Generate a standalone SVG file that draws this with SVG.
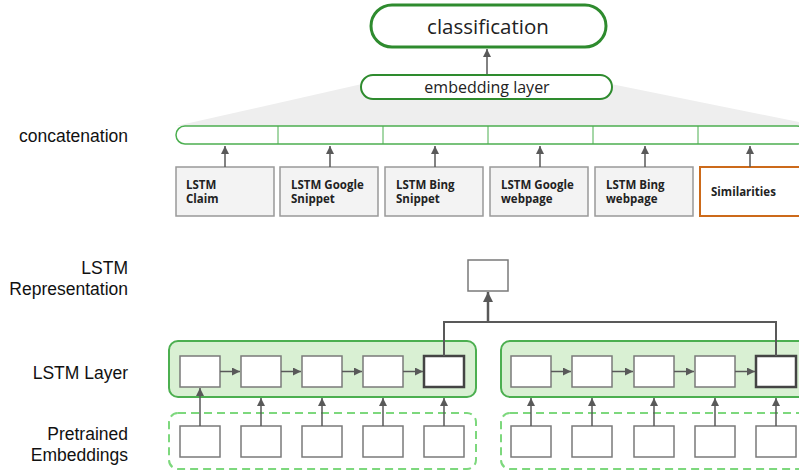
<svg xmlns="http://www.w3.org/2000/svg" width="799" height="472" viewBox="0 0 799 472">
<defs>
<marker id="ah" viewBox="0 0 10 10" refX="10" refY="5" markerWidth="8" markerHeight="8" markerUnits="userSpaceOnUse" orient="auto"><path d="M0,0 L10,5 L0,10 z" fill="#595959"/></marker>
<marker id="ahb" viewBox="0 0 10 10" refX="10" refY="5" markerWidth="10" markerHeight="10" markerUnits="userSpaceOnUse" orient="auto"><path d="M0,0 L10,5 L0,10 z" fill="#595959"/></marker>
</defs>
<style>
.lbl{font-family:"Liberation Sans",Arial,sans-serif;font-size:17.5px;fill:#111;text-anchor:end}
.src{fill:#f3f3f3;stroke:#999;stroke-width:1.5}
.srct{font-family:"Open Sans","Noto Sans",sans-serif;font-weight:bold;font-size:11.5px;fill:#222}
.cell{fill:#fff;stroke:#7a7a7a;stroke-width:1.5}
.last{fill:#fff;stroke:#444;stroke-width:2.5}
.arr{stroke:#595959;stroke-width:1.5;fill:none;marker-end:url(#ah)}
.panel{fill:#d9f0d3;stroke:#4caf50;stroke-width:2}
.dpanel{fill:none;stroke:#7dd87d;stroke-width:2;stroke-dasharray:8,5}
</style>
<rect width="799" height="472" fill="#fff"/>

<g id="labels">
<text class="lbl" x="128" y="142">concatenation</text>
<text class="lbl" x="128" y="274">LSTM</text>
<text class="lbl" x="128" y="295">Representation</text>
<text class="lbl" x="128" y="379">LSTM Layer</text>
<text class="lbl" x="128" y="440">Pretrained</text>
<text class="lbl" x="128" y="461">Embeddings</text>
</g>

<g id="fan"><polygon points="362,84 176,126 799,126 799,122 611,84" fill="#eeeeee"/></g>

<g id="classification">
<rect x="371" y="5" width="235" height="42" rx="21" fill="#fff" stroke="#2e8b2e" stroke-width="3"/>
<text x="488" y="34" font-family="'Open Sans','Noto Sans',sans-serif" font-size="20.5" fill="#222" text-anchor="middle">classification</text>
</g>

<g id="embedding">
<rect x="361" y="75" width="251" height="24" rx="12" fill="#fff" stroke="#2e8b2e" stroke-width="2"/>
<text x="487" y="92.5" font-family="'Open Sans','Noto Sans',sans-serif" font-size="16" fill="#222" text-anchor="middle">embedding layer</text>
</g>

<g id="concat">
<rect x="176" y="126" width="630" height="18" rx="9" fill="#fff" stroke="#4caf50" stroke-width="1.5"/>
<path d="M278,126V144M383,126V144M488,126V144M593,126V144M698,126V144" stroke="#4caf50" stroke-width="1"/>
</g>

<g id="src1"><rect class="src" x="176" y="167" width="98" height="49"/><text class="srct" x="186" y="189">LSTM</text><text class="srct" x="186" y="203">Claim</text></g>
<g id="src2"><rect class="src" x="280" y="167" width="98" height="49"/><text class="srct" x="291" y="189">LSTM Google</text><text class="srct" x="291" y="203">Snippet</text></g>
<g id="src3"><rect class="src" x="385" y="167" width="98" height="49"/><text class="srct" x="396" y="189">LSTM Bing</text><text class="srct" x="396" y="203">Snippet</text></g>
<g id="src4"><rect class="src" x="490" y="167" width="98" height="49"/><text class="srct" x="501" y="189">LSTM Google</text><text class="srct" x="501" y="203">webpage</text></g>
<g id="src5"><rect class="src" x="595" y="167" width="98" height="49"/><text class="srct" x="606" y="189">LSTM Bing</text><text class="srct" x="606" y="203">webpage</text></g>
<g id="src6"><rect x="700" y="167" width="102" height="49" fill="#fff" stroke="#cc6a1a" stroke-width="2"/><text class="srct" x="711" y="196">Similarities</text></g>

<g id="lstmrep"><rect class="cell" x="468" y="260" width="40" height="31"/></g>

<g id="panel1">
<rect class="panel" x="169" y="341" width="307" height="56" rx="9"/>
<rect class="cell" x="180" y="356" width="40" height="31"/>
<rect class="cell" x="241" y="356" width="40" height="31"/>
<rect class="cell" x="302" y="356" width="40" height="31"/>
<rect class="cell" x="363" y="356" width="40" height="31"/>
<rect class="last" x="424" y="356" width="40" height="31"/>
</g>
<g id="panel2">
<rect class="panel" x="501" y="341" width="320" height="56" rx="9"/>
<rect class="cell" x="511" y="356" width="40" height="31"/>
<rect class="cell" x="572" y="356" width="40" height="31"/>
<rect class="cell" x="634" y="356" width="40" height="31"/>
<rect class="cell" x="695" y="356" width="40" height="31"/>
<rect class="last" x="756" y="356" width="40" height="31"/>
</g>

<g id="emb1">
<rect class="dpanel" x="169" y="413" width="307" height="56" rx="9"/>
<rect class="cell" x="180" y="426" width="40" height="31"/>
<rect class="cell" x="241" y="426" width="40" height="31"/>
<rect class="cell" x="302" y="426" width="40" height="31"/>
<rect class="cell" x="363" y="426" width="40" height="31"/>
<rect class="cell" x="424" y="426" width="40" height="31"/>
</g>
<g id="emb2">
<rect class="dpanel" x="501" y="413" width="320" height="56" rx="9"/>
<rect class="cell" x="511" y="426" width="40" height="31"/>
<rect class="cell" x="572" y="426" width="40" height="31"/>
<rect class="cell" x="634" y="426" width="40" height="31"/>
<rect class="cell" x="695" y="426" width="40" height="31"/>
<rect class="cell" x="756" y="426" width="40" height="31"/>
</g>

<g id="connectors">
<line class="arr" x1="487" y1="74" x2="487" y2="49"/>
<line class="arr" x1="225" y1="167" x2="225" y2="146"/>
<line class="arr" x1="330" y1="167" x2="330" y2="146"/>
<line class="arr" x1="435" y1="167" x2="435" y2="146"/>
<line class="arr" x1="540" y1="167" x2="540" y2="146"/>
<line class="arr" x1="645" y1="167" x2="645" y2="146"/>
<line class="arr" x1="750" y1="167" x2="750" y2="146"/>
<path d="M444,356V322H776V356" stroke="#595959" stroke-width="2" fill="none"/>
<line x1="488" y1="322" x2="488" y2="292" stroke="#595959" stroke-width="2.5" marker-end="url(#ahb)"/>
<line class="arr" x1="220" y1="371.5" x2="240" y2="371.5"/>
<line class="arr" x1="281" y1="371.5" x2="301" y2="371.5"/>
<line class="arr" x1="342" y1="371.5" x2="362" y2="371.5"/>
<line class="arr" x1="403" y1="371.5" x2="423" y2="371.5"/>
<line class="arr" x1="551" y1="371.5" x2="571" y2="371.5"/>
<line class="arr" x1="612" y1="371.5" x2="633" y2="371.5"/>
<line class="arr" x1="674" y1="371.5" x2="694" y2="371.5"/>
<line class="arr" x1="735" y1="371.5" x2="755" y2="371.5"/>
<line class="arr" x1="200" y1="426" x2="200" y2="388"/>
<line class="arr" x1="261" y1="426" x2="261" y2="398"/>
<line class="arr" x1="322" y1="426" x2="322" y2="398"/>
<line class="arr" x1="383" y1="426" x2="383" y2="398"/>
<line class="arr" x1="444" y1="426" x2="444" y2="398"/>
<line class="arr" x1="531" y1="426" x2="531" y2="398"/>
<line class="arr" x1="592" y1="426" x2="592" y2="398"/>
<line class="arr" x1="654" y1="426" x2="654" y2="398"/>
<line class="arr" x1="715" y1="426" x2="715" y2="398"/>
<line class="arr" x1="776" y1="426" x2="776" y2="398"/>
</g>
</svg>
